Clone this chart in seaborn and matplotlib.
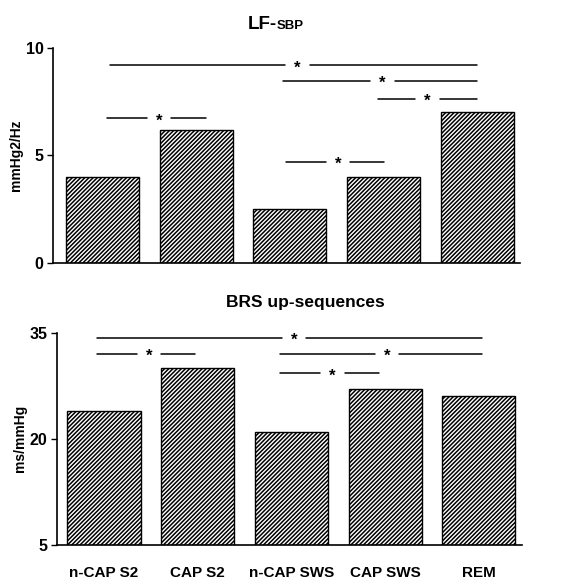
import matplotlib
matplotlib.use("Agg")
import matplotlib.pyplot as plt
import seaborn as sns

# sleep stages and values
stages = ["n-CAP S2", "CAP S2", "n-CAP SWS", "CAP SWS", "REM"]
lf_sbp = [4.0, 6.2, 2.5, 4.0, 7.0]
brs_up = [24.0, 30.0, 20.9, 27.0, 26.0]

# significance brackets: start, end, height, star position
lf_sig_start = [0.08, 1.93, 2.94, 0.04, 1.96]
lf_sig_end = [4.0, 4.0, 4.0, 1.1, 3.0]
lf_sig_y = [9.2, 8.47, 7.63, 6.74, 4.7]
lf_sig_star = [2.08, 2.99, 3.47, 0.6, 2.51]

brs_sig_start = [-0.07, -0.07, 1.88, 1.88]
brs_sig_end = [4.03, 0.97, 4.03, 2.94]
brs_sig_y = [34.3, 32.0, 32.0, 29.3]
brs_sig_star = [2.03, 0.48, 3.02, 2.44]

sns.set_style("white")
plt.rcParams["font.family"] = ["Liberation Sans", "DejaVu Sans"]
plt.rcParams["font.weight"] = "bold"
plt.rcParams["hatch.linewidth"] = 1.1
for k in ["text.color", "axes.labelcolor", "xtick.color", "ytick.color"]:
    plt.rcParams[k] = "black"

fig = plt.figure(figsize=(5.66, 5.79), dpi=100)
ax1 = fig.add_axes([0.094, 0.546, 0.825, 0.371])
ax2 = fig.add_axes([0.101, 0.0587, 0.821, 0.3667])


def draw_panel(ax, values, ylim, yticks, ylabel):
    sns.barplot(x=stages, y=values, ax=ax, color="white", saturation=1,
                edgecolor="black", linewidth=1.0, hatch="////////", width=0.78)
    ax.set_ylim(*ylim)
    ax.set_yticks(yticks)
    ax.set_ylabel(ylabel, fontsize=10, fontweight="bold", labelpad=2)
    ax.set_xlabel("")
    for s in ["top", "right"]:
        ax.spines[s].set_visible(False)
    for s in ["left", "bottom"]:
        ax.spines[s].set_color("black")
        ax.spines[s].set_linewidth(1.2)
    ax.tick_params(axis="y", left=True, length=4, width=1, labelsize=11.5, pad=3)
    for lab in ax.get_yticklabels():
        lab.set_fontweight("bold")


def draw_sig(ax, starts, ends, ys, stars, gap=0.13):
    for x0, x1, y, xs in zip(starts, ends, ys, stars):
        ax.plot([x0, xs - gap], [y, y], color="black", lw=1.1)
        ax.plot([xs + gap, x1], [y, y], color="black", lw=1.1)
        ax.annotate("*", (xs, y), xytext=(0, -2), textcoords="offset points",
                    ha="center", va="center", fontsize=12, fontweight="bold")


draw_panel(ax1, lf_sbp, (0, 10), [0, 5, 10], "mmHg2/Hz")
ax1.set_xlim(-0.53, 4.46)
ax1.set_xticks([])
draw_sig(ax1, lf_sig_start, lf_sig_end, lf_sig_y, lf_sig_star)

draw_panel(ax2, brs_up, (5, 35), [5, 20, 35], "ms/mmHg")
ax2.set_xlim(-0.5, 4.46)
ax2.tick_params(axis="x", length=0, labelsize=11, pad=15)
for lab in ax2.get_xticklabels():
    lab.set_fontweight("bold")
draw_sig(ax2, brs_sig_start, brs_sig_end, brs_sig_y, brs_sig_star)

# titles
fig.text(0.489, 0.95, "LF-", ha="right", va="baseline", fontsize=13.5, fontweight="bold")
fig.text(0.489, 0.95, "SBP", ha="left", va="baseline", fontsize=9.5, fontweight="bold")
fig.text(0.54, 0.470, "BRS up-sequences", ha="center", va="baseline",
         fontsize=12.5, fontweight="bold")

plt.savefig("out.png", dpi=100)
